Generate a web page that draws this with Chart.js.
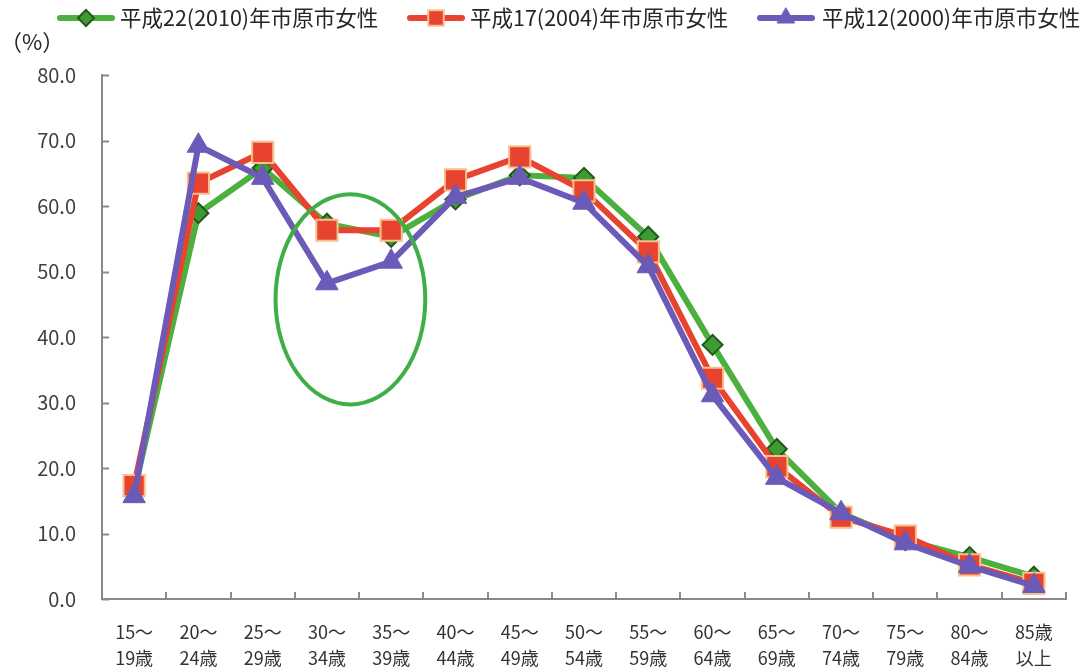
<!DOCTYPE html>
<html>
<head>
<meta charset="utf-8">
<script src="https://cdn.jsdelivr.net/npm/chart.js@4.4.1/dist/chart.umd.min.js"></script>
<style>
  html, body { margin: 0; padding: 0; background: #ffffff; }
  #wrap { width: 1086px; height: 670px; position: relative; }
</style>
</head>
<body>
<div id="wrap"><canvas id="c" width="1086" height="670"></canvas></div>
<script>
// Age groups (two-line labels)
const ageGroups = [
  ['15～', '19歳'], ['20～', '24歳'], ['25～', '29歳'], ['30～', '34歳'], ['35～', '39歳'],
  ['40～', '44歳'], ['45～', '49歳'], ['50～', '54歳'], ['55～', '59歳'], ['60～', '64歳'],
  ['65～', '69歳'], ['70～', '74歳'], ['75～', '79歳'], ['80～', '84歳'], ['85歳', '以上']
];

// Labour force participation rate of women (%)
const rate2010 = [16.5, 58.9, 65.8, 57.3, 55.3, 61.0, 64.7, 64.3, 55.3, 38.8, 22.9, 13.1, 9.0, 6.4, 3.4];
const rate2004 = [17.3, 63.5, 68.2, 56.3, 56.3, 64.0, 67.5, 62.3, 53.0, 33.7, 20.2, 12.5, 9.6, 5.2, 2.4];
const rate2000 = [15.7, 69.2, 64.3, 48.2, 51.5, 61.4, 64.3, 60.5, 50.8, 31.1, 18.5, 13.1, 8.5, 5.0, 2.0];

const seriesLabels = ['平成22(2010)年市原市女性', '平成17(2004)年市原市女性', '平成12(2000)年市原市女性'];

const yTicks = [0, 10, 20, 30, 40, 50, 60, 70, 80];

const FONT = '"Noto Sans CJK JP", "Noto Sans", sans-serif';

const styles = [
  { line: '#4cb03e', fill: '#3f9a33', border: '#23571c', shape: 'rectRot', r: 10, bw: 2 },
  { line: '#e8432f', fill: '#e8432f', border: '#f7c08f', shape: 'rect', r: 15, bw: 2 },
  { line: '#6b5ab8', fill: '#6b5ab8', border: '#6b5ab8', shape: 'triangle', r: 13, bw: 1 }
];

function makeDataset(label, data, st, order) {
  return {
    label, data, order,
    borderColor: st.line,
    backgroundColor: st.fill,
    borderWidth: 6,
    pointStyle: st.shape,
    pointRadius: st.r,
    pointHoverRadius: st.r,
    pointBackgroundColor: st.fill,
    pointBorderColor: st.border,
    pointBorderWidth: st.bw,
    tension: 0,
    fill: false
  };
}

// Inward tick marks on both axes
const innerTicks = {
  id: 'innerTicks',
  afterDatasetsDraw(chart) {
    const { ctx, chartArea: a, scales: { x, y } } = chart;
    ctx.save();
    ctx.strokeStyle = '#8a8a8a';
    ctx.lineWidth = 2;
    ctx.beginPath();
    yTicks.forEach(v => {
      const py = Math.round(y.getPixelForValue(v)) + 0.5;
      ctx.moveTo(a.left, py);
      ctx.lineTo(a.left + 7, py);
    });
    const n = ageGroups.length;
    for (let k = 1; k <= n; k++) {
      const px = Math.round(x.getPixelForValue(k - 0.5));
      ctx.moveTo(px, a.bottom);
      ctx.lineTo(px, a.bottom - 7);
    }
    ctx.stroke();
    ctx.restore();
  }
};

// Highlight ring around the 30-39 age dip
const dipRing = {
  id: 'dipRing',
  afterDatasetsDraw(chart) {
    const { ctx, scales: { x, y } } = chart;
    const left = x.getPixelForValue(2.2), right = x.getPixelForValue(4.53);
    const top = y.getPixelForValue(61.8), bottom = y.getPixelForValue(29.7);
    ctx.save();
    ctx.strokeStyle = '#3fae46';
    ctx.lineWidth = 4;
    ctx.beginPath();
    ctx.ellipse((left + right) / 2, (top + bottom) / 2, (right - left) / 2, (bottom - top) / 2, 0, 0, Math.PI * 2);
    ctx.stroke();
    ctx.restore();
  }
};

// Legend row with line + marker swatches, and the unit label
const legendRow = {
  id: 'legendRow',
  afterDraw(chart) {
    const ctx = chart.ctx;
    const items = [
      { x0: 60, x1: 112, tx: 120 },
      { x0: 410, x1: 462, tx: 470 },
      { x0: 760, x1: 812, tx: 822 }
    ];
    const cy = 18;
    ctx.save();
    items.forEach((it, i) => {
      const st = styles[i];
      ctx.strokeStyle = st.line;
      ctx.lineWidth = 6;
      ctx.lineCap = 'round';
      ctx.beginPath();
      ctx.moveTo(it.x0, cy);
      ctx.lineTo(it.x1, cy);
      ctx.stroke();
      ctx.fillStyle = st.fill;
      ctx.strokeStyle = st.border;
      ctx.lineWidth = st.bw;
      const r = st.shape === 'rect' ? 11 : st.shape === 'triangle' ? 10 : 8;
      Chart.helpers.drawPoint(ctx, { pointStyle: st.shape, radius: r, borderWidth: st.bw }, (it.x0 + it.x1) / 2, cy);
      ctx.fillStyle = '#262626';
      ctx.font = '21.5px ' + FONT;
      ctx.textBaseline = 'middle';
      ctx.textAlign = 'left';
      ctx.fillText(chart.data.datasets[i].label, it.tx, cy);
    });
    ctx.font = '22px ' + FONT;
    ctx.fillStyle = '#262626';
    ctx.textBaseline = 'middle';
    ctx.fillText('（%）', 0, 42);
    ctx.restore();
  }
};

new Chart(document.getElementById('c'), {
  type: 'line',
  data: {
    labels: ageGroups,
    datasets: [
      makeDataset(seriesLabels[0], rate2010, styles[0], 3),
      makeDataset(seriesLabels[1], rate2004, styles[1], 2),
      makeDataset(seriesLabels[2], rate2000, styles[2], 1)
    ]
  },
  options: {
    responsive: false,
    animation: false,
    devicePixelRatio: 1,
    layout: { padding: { left: 0, right: 20, top: 75, bottom: 0 } },
    plugins: {
      legend: { display: false },
      tooltip: { enabled: false }
    },
    scales: {
      x: {
        type: 'category',
        offset: true,
        grid: { display: false, drawTicks: false },
        border: { display: true, color: '#8a8a8a', width: 2 },
        ticks: {
          color: '#333333',
          font: { family: FONT, size: 18, lineHeight: 1.45 },
          padding: 20,
          maxRotation: 0,
          autoSkip: false
        },
        afterFit(s) { s.height = 71; }
      },
      y: {
        min: 0,
        max: 80,
        grid: { display: false, drawTicks: false },
        border: { display: true, color: '#8a8a8a', width: 2 },
        afterBuildTicks(s) { s.ticks = yTicks.map(v => ({ value: v })); },
        ticks: {
          color: '#404040',
          font: { family: FONT, size: 20 },
          padding: 26,
          callback: v => Number(v).toFixed(1)
        },
        afterFit(s) { s.width = 102; }
      }
    }
  },
  plugins: [innerTicks, dipRing, legendRow]
});
</script>
</body>
</html>
